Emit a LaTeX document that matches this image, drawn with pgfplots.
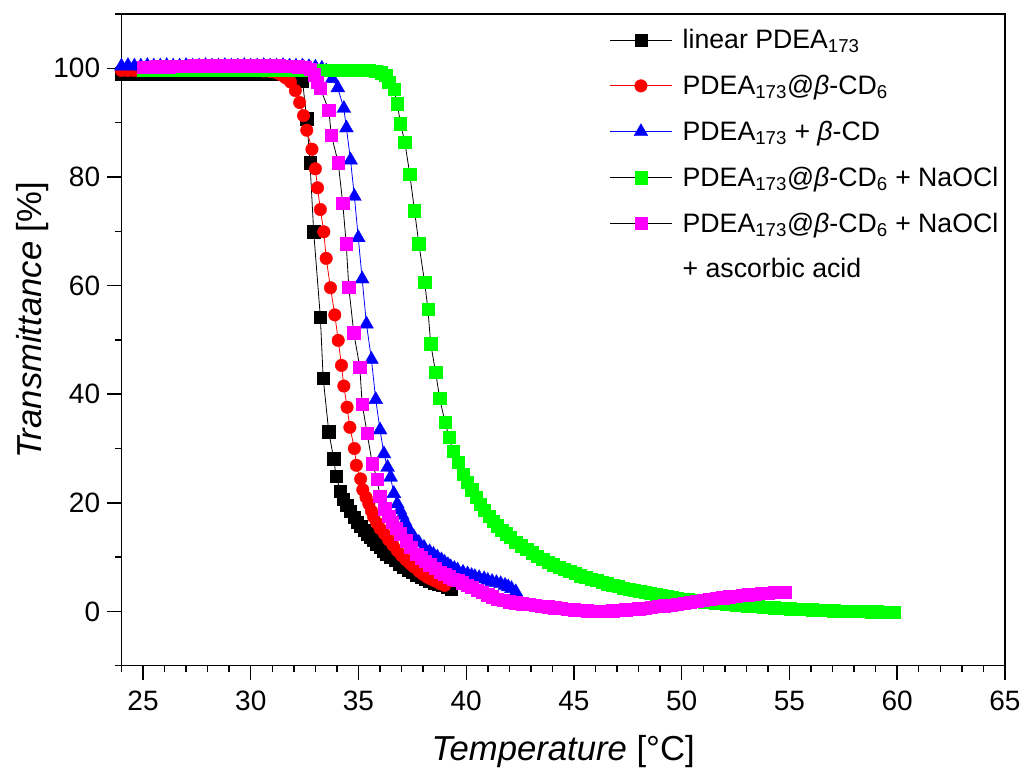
\documentclass[border=0pt]{standalone}
\usepackage{pgfplots}
\pgfplotsset{compat=1.18}
\usepackage{fontspec}
\setmainfont{Liberation Sans}
\newcommand{\sub}[1]{\textsubscript{#1}}
\definecolor{cgreen}{RGB}{0,255,0}
\definecolor{cmag}{RGB}{255,0,255}
\begin{document}
\begin{tikzpicture}
\path[use as bounding box] (-91.1pt,-81.2pt) rectangle (676.9pt,499.3pt);
\begin{axis}[
  at={(0pt,0pt)}, anchor=south west,
  scale only axis, width=662.6pt, height=488.8pt,
  xmin=24, xmax=65, ymin=-10, ymax=110,
  xtick={25,30,...,65}, ytick={0,20,...,100},
  minor xtick={24,...,65}, minor ytick={-10,10,...,110},
  tick align=outside, xtick pos=lower, ytick pos=left,
  major tick length=10.5pt, minor tick length=4.5pt,
  axis line style={line width=1.1pt},
  every tick/.style={black, line width=1.1pt},
  /pgf/number format/assume math mode=true,
  tick label style={font=\fontsize{21}{25}\selectfont},
  xticklabel shift=5pt, yticklabel shift=2pt,
  xlabel={\textit{Temperature} [°C]},
  ylabel={\textit{Transmittance} [\%]},
  label style={font=\fontsize{26}{30}\selectfont},
  xlabel style={at={(axis description cs:0.5,0)}, anchor=center, yshift=-64pt},
  ylabel style={at={(axis description cs:-0.1002,0.53)}, anchor=center},
  legend image code/.code={\draw[mark repeat=2,mark phase=2,#1] plot coordinates {(0pt,0pt) (23pt,0pt) (46pt,0pt)}; \path (52pt,0pt);},
  legend style={draw=none, fill=none, at={(axis description cs:0.548,0.985)}, anchor=north west,
    font=\fontsize{20}{24}\selectfont, row sep=14.4pt},
  legend cell align=left,
]
% linear PDEA173
\addplot[black, line width=0.6pt, mark=square*, mark size=4.6pt, mark options={solid, line width=0.3pt}] coordinates {
(24.0,99.0)(24.3,99.0)(24.6,99.0)(24.9,99.0)(25.2,99.0)(25.5,99.0)(25.8,99.0)(26.1,99.0)(26.4,99.0)(26.7,99.0)(27.0,99.0)(27.3,99.0)(27.6,99.0)(27.9,99.0)(28.2,99.0)(28.5,99.0)(28.8,99.0)(29.1,99.0)(29.4,99.0)(29.7,99.0)(30.0,99.0)(30.3,99.0)(30.6,99.0)(30.9,99.0)(31.2,99.0)(31.5,99.0)(31.8,98.9)(32.1,98.7)(32.4,97.7)(32.6,90.7)(32.75,82.6)(32.92,69.9)(33.23,54.2)(33.36,43.0)(33.62,33.1)(33.85,28.1)(33.96,24.9)(34.15,22.2)(34.3,20.6)(34.45,19.5)(34.63,18.4)(34.8,17.3)(34.95,16.4)(35.1,15.7)(35.25,15.0)(35.4,14.3)(35.55,13.7)(35.7,13.1)(35.85,12.4)(36.0,11.8)(36.15,11.2)(36.3,10.6)(36.5,10.0)(36.7,9.4)(36.9,8.8)(37.1,8.2)(37.3,7.6)(37.5,7.2)(37.7,6.7)(37.9,6.3)(38.1,5.9)(38.3,5.6)(38.5,5.3)(38.7,5.1)(38.9,4.8)(39.1,4.5)(39.3,4.2)
};
\addlegendentry{linear PDEA\sub{173}}
% PDEA173@b-CD6
\addplot[red, line width=0.6pt, mark=*, mark size=4.7pt, mark options={solid, line width=0.3pt}] coordinates {
(24.0,99.6)(24.3,99.6)(24.6,99.6)(24.9,99.6)(25.2,99.6)(25.5,99.6)(25.8,99.6)(26.1,99.6)(26.4,99.6)(26.7,99.6)(27.0,99.6)(27.3,99.6)(27.6,99.6)(27.9,99.6)(28.2,99.6)(28.5,99.6)(28.8,99.6)(29.1,99.6)(29.4,99.6)(29.7,99.6)(30.0,99.6)(30.3,99.6)(30.6,99.5)(30.9,99.4)(31.2,99.2)(31.4,98.8)(31.6,98.3)(31.84,97.5)(32.07,95.9)(32.27,93.7)(32.45,91.3)(32.6,88.6)(32.84,85.1)(33.0,81.5)(33.1,78.0)(33.23,74.0)(33.39,69.9)(33.5,65.0)(33.7,59.6)(33.9,54.6)(34.06,49.9)(34.21,45.3)(34.32,41.5)(34.47,37.6)(34.6,33.9)(34.81,30.0)(34.9,26.9)(35.1,24.4)(35.2,22.4)(35.35,21.0)(35.48,19.8)(35.6,18.5)(35.7,17.4)(35.85,16.3)(36.0,15.3)(36.2,14.3)(36.4,13.2)(36.6,12.2)(36.8,11.2)(37.0,10.3)(37.2,9.5)(37.4,8.8)(37.57,8.2)(37.8,7.4)(38.0,6.8)(38.2,6.3)(38.35,6.0)(38.55,5.6)(38.8,5.1)(39.0,4.8)
};
\addlegendentry{PDEA\sub{173}@\textit{β}-CD\sub{6}}
% PDEA173 + b-CD
\addplot[blue, line width=0.6pt, mark=triangle*, mark size=6pt, mark options={solid, line width=0.3pt}] coordinates {
(24.0,100.4)(24.3,100.5)(24.6,100.4)(24.9,100.4)(25.2,100.5)(25.5,100.4)(25.8,100.4)(26.1,100.5)(26.4,100.4)(26.7,100.4)(27.0,100.5)(27.3,100.4)(27.6,100.4)(27.9,100.5)(28.2,100.4)(28.5,100.4)(28.8,100.5)(29.1,100.4)(29.4,100.4)(29.7,100.5)(30.0,100.4)(30.3,100.4)(30.6,100.5)(30.9,100.4)(31.2,100.4)(31.5,100.5)(31.8,100.4)(32.1,100.4)(32.4,100.4)(32.7,100.3)(33.0,100.2)(33.3,100.0)(33.5,99.5)(33.78,98.1)(34.04,96.4)(34.32,92.6)(34.44,89.0)(34.63,83.1)(34.81,76.4)(34.99,68.8)(35.17,61.2)(35.37,52.9)(35.6,46.4)(35.8,39.0)(36.0,33.4)(36.18,29.0)(36.35,26.5)(36.49,24.7)(36.64,21.7)(36.8,19.8)(36.92,18.7)(37.03,17.7)(37.15,16.6)(37.27,15.5)(37.42,14.6)(37.57,13.7)(37.8,12.7)(38.04,11.8)(38.3,11.0)(38.48,10.5)(38.66,10.0)(38.85,9.5)(39.0,9.0)(39.15,8.6)(39.28,8.2)(39.45,7.9)(39.6,7.6)(39.85,7.2)(40.06,6.9)(40.25,6.6)(40.4,6.4)(40.6,6.2)(40.83,6.0)(41.0,5.7)(41.2,5.5)(41.4,5.3)(41.6,5.1)(41.8,4.8)(41.95,4.5)(42.1,4.2)(42.3,3.6)
};
\addlegendentry{PDEA\sub{173} + \textit{β}-CD}
% + NaOCl
\addplot[black, line width=0.6pt, mark=square*, mark size=4.6pt, mark options={solid, line width=0.3pt, draw=cgreen, fill=cgreen}] coordinates {
(25.0,99.7)(25.3,99.7)(25.6,99.7)(25.9,99.7)(26.2,99.7)(26.5,99.7)(26.8,99.7)(27.1,99.7)(27.4,99.7)(27.7,99.7)(28.0,99.7)(28.3,99.7)(28.6,99.7)(28.9,99.7)(29.2,99.7)(29.5,99.7)(29.8,99.7)(30.1,99.7)(30.4,99.7)(30.7,99.7)(31.0,99.7)(31.3,99.7)(31.6,99.7)(31.9,99.7)(32.2,99.7)(32.5,99.7)(32.8,99.7)(33.1,99.7)(33.4,99.7)(33.7,99.7)(34.0,99.7)(34.3,99.7)(34.6,99.7)(34.9,99.7)(35.2,99.7)(35.5,99.6)(35.8,99.5)(36.05,99.2)(36.26,98.7)(36.4,97.5)(36.64,96.1)(36.8,93.5)(36.95,89.8)(37.15,86.4)(37.38,80.5)(37.6,73.8)(37.8,67.7)(38.07,60.6)(38.22,55.7)(38.35,49.3)(38.58,44.0)(38.77,39.2)(39.01,34.9)(39.2,32.1)(39.39,29.5)(39.62,27.5)(39.87,25.2)(40.05,23.8)(40.25,22.4)(40.45,21.0)(40.65,19.8)(40.85,18.6)(41.05,17.6)(41.25,16.6)(41.45,15.8)(41.65,15.0)(41.85,14.3)(42.05,13.6)(42.3,12.8)(42.55,12.1)(42.8,11.4)(43.05,10.8)(43.3,10.2)(43.55,9.6)(43.8,9.1)(44.05,8.6)(44.3,8.2)(44.55,7.8)(44.8,7.4)(45.05,7.0)(45.3,6.6)(45.55,6.3)(45.8,6.0)(46.05,5.7)(46.3,5.4)(46.55,5.1)(46.8,4.8)(47.05,4.6)(47.3,4.3)(47.55,4.1)(47.8,3.9)(48.05,3.7)(48.3,3.5)(48.55,3.3)(48.8,3.1)(49.05,2.9)(49.3,2.8)(49.55,2.6)(49.8,2.5)(50.05,2.3)(50.3,2.2)(50.55,2.1)(50.8,1.9)(51.05,1.8)(51.3,1.7)(51.55,1.6)(51.8,1.5)(52.05,1.4)(52.3,1.3)(52.55,1.2)(52.8,1.1)(53.05,1.0)(53.3,0.95)(53.55,0.9)(53.8,0.8)(54.05,0.75)(54.3,0.7)(54.55,0.6)(54.8,0.55)(55.05,0.5)(55.3,0.45)(55.55,0.4)(55.8,0.35)(56.05,0.3)(56.3,0.25)(56.55,0.2)(56.8,0.2)(57.05,0.15)(57.3,0.1)(57.55,0.1)(57.8,0.05)(58.05,0.05)(58.3,0.0)(58.55,0.0)(58.8,-0.05)(59.05,-0.05)(59.3,-0.1)(59.55,-0.1)(59.85,-0.1)
};
\addlegendentry{PDEA\sub{173}@\textit{β}-CD\sub{6} + NaOCl}
% + NaOCl + ascorbic acid
\addplot[black, line width=0.6pt, mark=square*, mark size=4.6pt, mark options={solid, line width=0.3pt, draw=cmag, fill=cmag}] coordinates {
(25.0,100.2)(25.3,100.2)(25.6,100.3)(25.9,100.3)(26.2,100.3)(26.5,100.4)(26.8,100.4)(27.1,100.4)(27.4,100.5)(27.7,100.5)(28.0,100.5)(28.3,100.5)(28.6,100.5)(28.9,100.5)(29.2,100.5)(29.5,100.5)(29.8,100.5)(30.1,100.5)(30.4,100.5)(30.7,100.5)(31.0,100.5)(31.3,100.5)(31.6,100.4)(31.9,100.4)(32.2,100.3)(32.5,100.2)(32.75,99.8)(32.95,98.8)(33.1,97.5)(33.23,96.3)(33.62,92.3)(33.74,87.7)(34.06,82.6)(34.27,75.1)(34.43,67.7)(34.55,59.7)(34.78,51.3)(35.06,45.0)(35.17,38.2)(35.4,32.8)(35.64,27.2)(35.87,24.4)(35.99,21.2)(36.22,18.9)(36.4,17.6)(36.57,16.4)(36.75,15.3)(36.95,14.3)(37.2,13.0)(37.42,11.8)(37.7,10.6)(37.9,9.9)(38.1,9.2)(38.3,8.6)(38.55,7.9)(38.8,7.2)(39.0,6.8)(39.2,6.4)(39.4,6.0)(39.6,5.7)(39.8,5.3)(40.05,4.8)(40.25,4.4)(40.5,3.9)(40.75,3.5)(41.0,3.1)(41.2,2.7)(41.45,2.3)(41.7,2.1)(42.0,1.8)(42.3,1.6)(42.6,1.4)(42.9,1.3)(43.2,1.1)(43.5,1.0)(43.8,0.85)(44.1,0.7)(44.4,0.55)(44.7,0.4)(45.0,0.3)(45.3,0.2)(45.6,0.15)(45.9,0.1)(46.2,0.1)(46.5,0.1)(46.8,0.15)(47.1,0.2)(47.4,0.3)(47.7,0.4)(48.0,0.5)(48.3,0.6)(48.6,0.75)(48.9,0.9)(49.2,1.05)(49.5,1.2)(49.8,1.35)(50.1,1.5)(50.4,1.7)(50.7,1.85)(51.0,2.05)(51.3,2.25)(51.6,2.4)(51.9,2.55)(52.2,2.7)(52.5,2.85)(52.8,3.0)(53.1,3.1)(53.4,3.2)(53.7,3.3)(54.0,3.4)(54.3,3.5)(54.6,3.55)(54.8,3.6)
};
\addlegendentry{PDEA\sub{173}@\textit{β}-CD\sub{6} + NaOCl}
\addlegendimage{empty legend}
\addlegendentry{+ ascorbic acid}
\end{axis}
\end{tikzpicture}
\end{document}
